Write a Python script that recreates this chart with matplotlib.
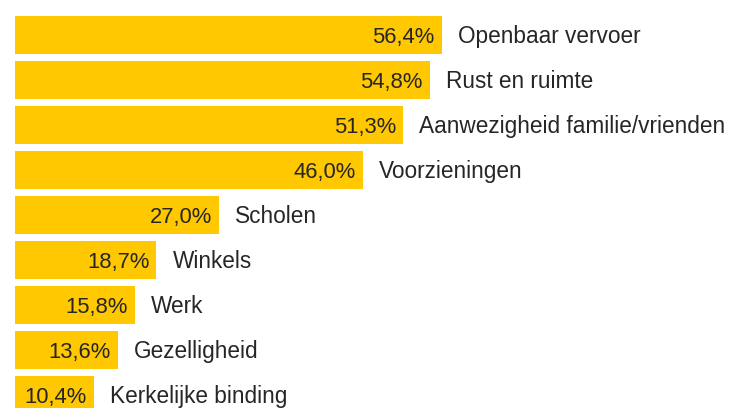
import matplotlib.pyplot as plt

# values
categories = ["Openbaar vervoer", "Rust en ruimte", "Aanwezigheid familie/vrienden",
              "Voorzieningen", "Scholen", "Winkels", "Werk", "Gezelligheid",
              "Kerkelijke binding"]
percentages = [56.4, 54.8, 51.3, 46.0, 27.0, 18.7, 15.8, 13.6, 10.4]
value_labels = ["56,4%", "54,8%", "51,3%", "46,0%", "27,0%", "18,7%", "15,8%",
                "13,6%", "10,4%"]

BAR_COLOR = "#FFC800"
TEXT_COLOR = "#262626"

fig = plt.figure(figsize=(7.32, 4.08), dpi=100)
ax = fig.add_axes([0, 0, 1, 1])

positions = list(range(len(categories)))
ax.barh(positions, percentages, height=38 / 45, color=BAR_COLOR, align="center")

# 7.565 px per percent, bars start 15 px from the left edge
ax.set_xlim(-15 / 7.565, (732 - 15) / 7.565)
ax.set_ylim((408 - 35) / 45, -35 / 45)

pad_in = 7 / 7.565
pad_out = 16 / 7.565
base = 8 / 45
for pos, val, lab, cat in zip(positions, percentages, value_labels, categories):
    ax.text(val - pad_in, pos + base, lab, ha="right", va="baseline",
            fontsize=15.8, color=TEXT_COLOR, family="Liberation Sans")
    ax.text(val + pad_out, pos + base, cat, ha="left", va="baseline",
            fontsize=16.3, color=TEXT_COLOR, family="Liberation Sans")

ax.axis("off")
fig.savefig("out.png", dpi=100)
